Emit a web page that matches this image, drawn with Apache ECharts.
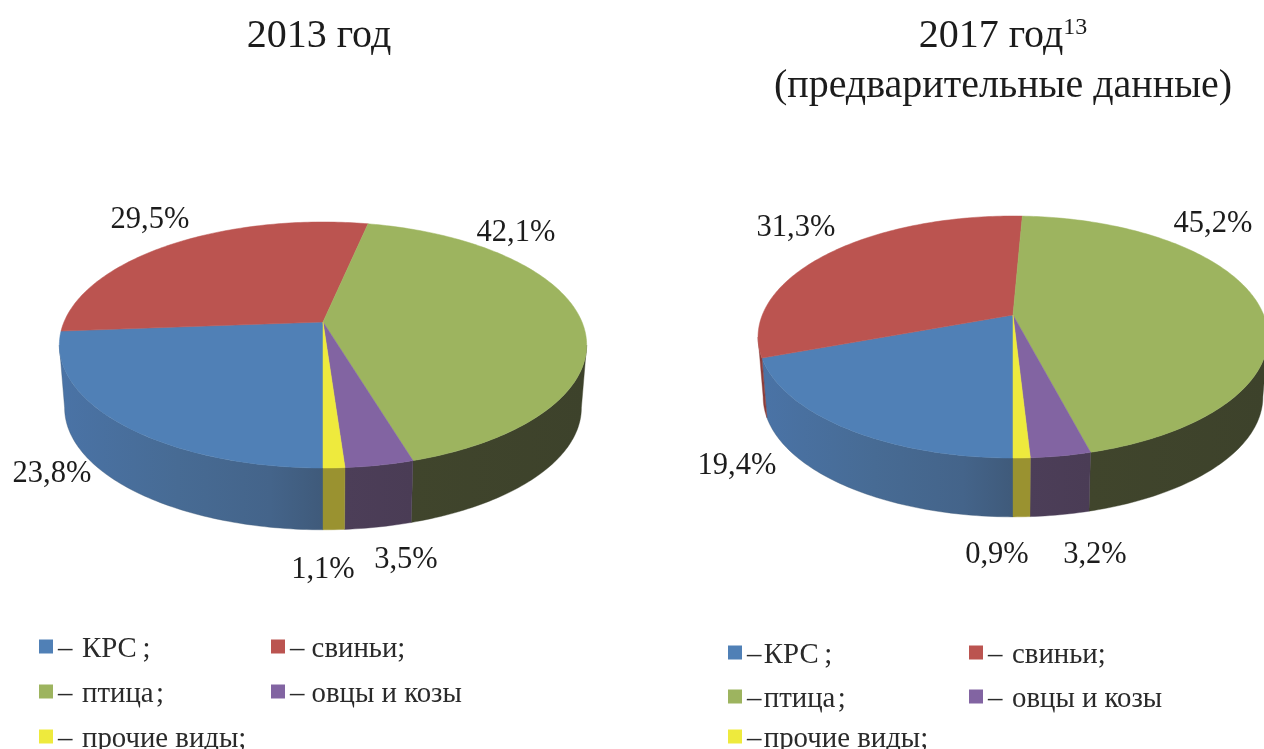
<!DOCTYPE html>
<html><head><meta charset="utf-8">
<style>html,body{margin:0;padding:0;background:#fff}#c{width:1264px;height:749px}</style>
<script src="https://cdn.jsdelivr.net/npm/echarts@6/dist/echarts.min.js"></script>
</head><body><div id="c"></div>
<script>
// ---- data ----
const categories = ['КРС', 'свиньи', 'птица', 'овцы и козы', 'прочие виды'];
const legendSuffix = ['\u2009;', ';', '\u200a;', '', ';'];
const shares2013 = [23.8, 29.5, 42.1, 3.5, 1.1];
const shares2017 = [19.4, 31.3, 45.2, 3.2, 0.9];

// ---- styles ----
const FONT = '"Liberation Serif","Times New Roman",serif';
const topColors = ['#5080b6', '#bb5450', '#9db45f', '#8264a2', '#eeea3d'];
const wallStops = [
  [[0, '#4a73a6'], [0.45, '#476b94'], [0.8, '#44648a'], [1, '#3f5a7a']],
  [[0, '#8f3f3c'], [1, '#8a3c3a']],
  [[0, '#40452c'], [1, '#3d422b']],
  [[0, '#4c3e58'], [1, '#4a3c55']],
  [[0, '#9a9230'], [1, '#9a9230']]
];

// ---- pie layouts (perspective ellipse of a tilted disc) ----
const pie2013 = { shares: shares2013, cx: 323, cy: 322, R: 259, S: 118.7, k: 0.187, depth: 63,
  labels: [[52, 474], [150, 220], [516, 233], [406, 560], [323, 570]] };
const pie2017 = { shares: shares2017, cx: 1013, cy: 315, R: 250.7, S: 117, k: 0.182, depth: 60,
  labels: [[737, 466], [796, 228], [1213, 224], [1095, 555], [997, 555]] };

// x, y of the swatch centre line, and the gap string between dash and text
const legendPos2013 = [[39, 651, '\u00a0\u200a'], [271, 651, '\u00a0'], [39, 696, '\u00a0\u200a'], [271, 696, '\u00a0'], [39, 741, '\u00a0\u200a']];
const legendPos2017 = [[728, 657, '\u200a'], [969, 657, '\u00a0\u200a'], [728, 701, '\u200a'], [969, 701, '\u00a0\u200a'], [728, 741, '\u200a']];

function project(p, deg, lower) {
  const t = deg * Math.PI / 180, u = Math.sin(t), v = Math.cos(t), w = 1 + p.k * v;
  let x = p.R * u / w, y = -p.S * v / w;
  if (lower) { x *= 0.98; y = y * 0.985 + p.depth - v; }
  return [p.cx + x, p.cy + y];
}
function arc(p, a, b, lower) {
  const pts = [], n = Math.max(2, Math.ceil(Math.abs(b - a)));
  for (let i = 0; i <= n; i++) pts.push(project(p, a + (b - a) * i / n, lower));
  return pts;
}
function sliceElements(p, idx) {
  let a = 180;
  for (let i = 0; i < idx; i++) a += p.shares[i] * 3.6;
  const b = a + p.shares[idx] * 3.6;
  const edge = Math.acos(-p.k) * 180 / Math.PI;       // silhouette angle
  const visible = [[180, 360 - edge], [360 + edge, 540]];
  const kids = [];
  visible.forEach(r => {
    const s = Math.max(a, r[0]), e = Math.min(b, r[1]);
    if (e <= s) return;
    const pts = arc(p, s, e, false).concat(arc(p, s, e, true).reverse());
    const grad = new echarts.graphic.LinearGradient(0, 0, 1, 0,
      wallStops[idx].map(c => ({ offset: c[0], color: c[1] })));
    kids.push({ type: 'polygon', silent: true, shape: { points: pts },
      style: { fill: grad, stroke: wallStops[idx][wallStops[idx].length - 1][1], lineWidth: 0.4 } });
  });
  kids.push({ type: 'polygon', silent: true, shape: { points: [[p.cx, p.cy]].concat(arc(p, a, b, false)) },
    style: { fill: topColors[idx], stroke: topColors[idx], lineWidth: 0.5 } });
  kids.push({ type: 'text', silent: true, z2: 10, style: {
    text: String(p.shares[idx]).replace('.', ',') + '%',
    x: p.labels[idx][0], y: p.labels[idx][1], align: 'center', verticalAlign: 'middle',
    font: '30.5px ' + FONT, fill: '#1c1c1c' } });
  return kids;
}
function seriesFor(p) {
  return categories.map((name, idx) => ({
    type: 'custom', name, coordinateSystem: 'none', animation: false,
    itemStyle: { color: topColors[idx] },
    data: [[p.shares[idx]]],
    renderItem: () => ({ type: 'group', children: sliceElements(p, idx) })
  }));
}
function legendsFor(pos) {
  return categories.map((name, i) => ({
    data: [name], left: pos[i][0], top: pos[i][1] - 16, padding: 0, height: 32,
    icon: 'rect', itemWidth: 14, itemHeight: 14, selectedMode: false,
    formatter: n => '{t|–' + pos[i][2] + n + legendSuffix[i] + '}',
    textStyle: { rich: { t: { fontFamily: FONT, fontSize: 28.8, color: '#2a2a2a', padding: [6, 0, 0, 0] } } }
  }));
}
const titleStyle = { fontFamily: FONT, fontSize: 40, fontWeight: 'normal', color: '#1c1c1c' };
const chart = echarts.init(document.getElementById('c'));
chart.setOption({
  backgroundColor: '#fff',
  animation: false,
  title: [
    { text: '2013 год', left: 319, top: 16, padding: 0, textAlign: 'center', textStyle: titleStyle },
    { text: '{m|2017 год}{s|13}', left: 1003, top: 16, padding: 0, textAlign: 'center',
      textStyle: { fontWeight: 'normal', rich: {
        m: { fontFamily: FONT, fontSize: 40, fontWeight: 'normal', color: '#1c1c1c' },
        s: { fontFamily: FONT, fontSize: 24, fontWeight: 'normal', color: '#1c1c1c', verticalAlign: 'top', lineHeight: 40 } } } },
    { text: '(предварительные данные)', left: 1003, top: 66, padding: 0, textAlign: 'center', textStyle: titleStyle }
  ],
  legend: legendsFor(legendPos2013).concat(legendsFor(legendPos2017)),
  series: seriesFor(pie2013).concat(seriesFor(pie2017))
});
</script></body></html>
